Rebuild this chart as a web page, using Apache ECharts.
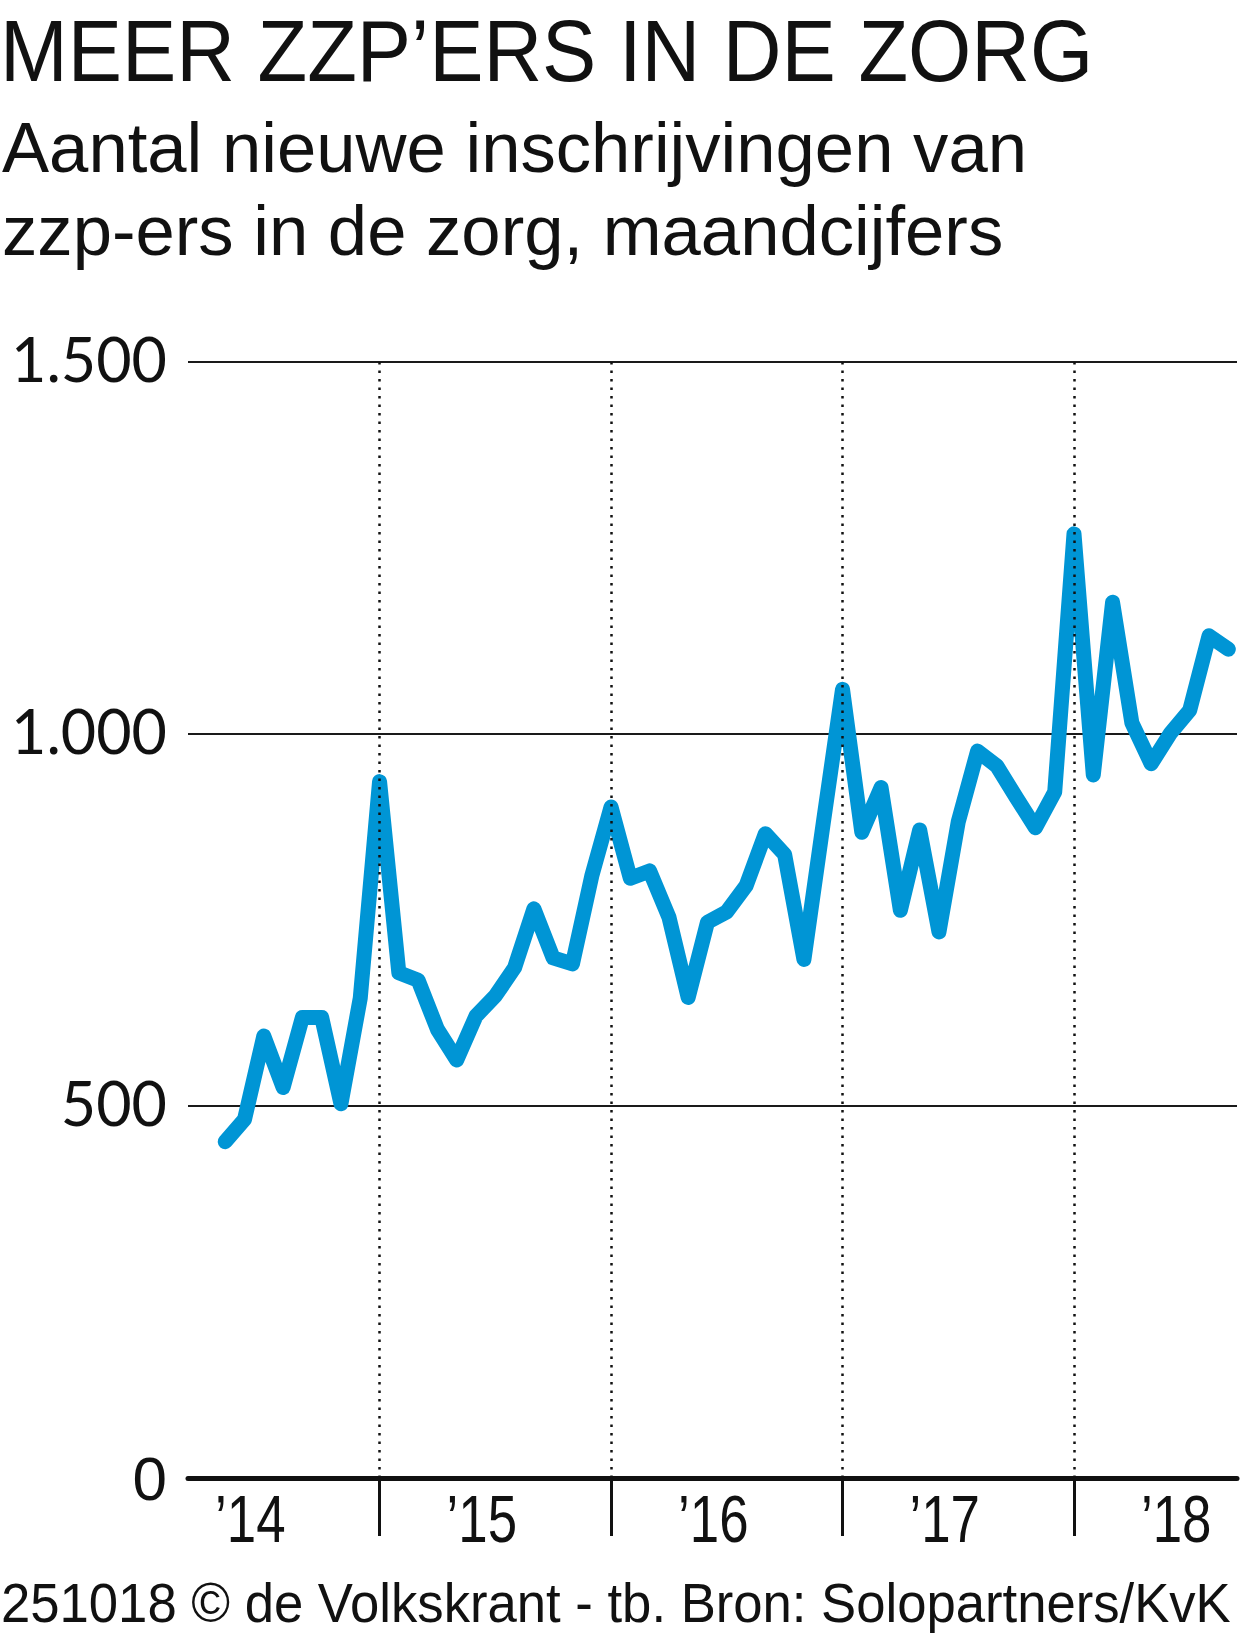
<!DOCTYPE html>
<html>
<head>
<meta charset="utf-8">
<script src="https://cdn.jsdelivr.net/npm/echarts@6/dist/echarts.min.js"></script>
<style>
  html, body { margin: 0; padding: 0; background: #fff; }
  .page { position: relative; width: 1240px; height: 1633px; overflow: hidden; }
  #chart { position: absolute; left: 0; top: 0; width: 1240px; height: 1633px; }
  .txt { position: absolute; color: #111; font-family: 'Liberation Sans', Arial, sans-serif; white-space: nowrap; transform-origin: 0 0; }
  .title { left: 0; top: 0; font-size: 88px; line-height: normal; transform: scaleX(0.924); }
  .sub { left: 2px; top: 106px; font-size: 71px; line-height: 83px; transform: scaleX(0.995); }
  .foot { left: 1px; top: 1570px; font-size: 56px; line-height: normal; transform: scaleX(0.94); }
</style>
</head>
<body>
<div class="page">
  <div id="chart"></div>
  <div class="txt title">MEER ZZP’ERS IN DE ZORG</div>
  <div class="txt sub">Aantal nieuwe inschrijvingen van<br>zzp-ers in de zorg, maandcijfers</div>
  <div class="txt foot">251018 © de Volkskrant - tb. Bron: Solopartners/KvK</div>
</div>

<script>
// maandcijfers, mei 2014 t/m sep 2018 (index 0 = mei 2014)
const values = [
  452, 482, 594, 525, 619, 619, 503, 645,                      // 2014
  936, 679, 669, 603, 562, 621, 648, 686, 765, 699, 691, 809,  // 2015
  902, 806, 816, 754, 646, 747, 761, 796, 866, 838, 697, 880,  // 2016
  1060, 868, 928, 763, 871, 734, 882, 977, 957, 915, 874, 922, // 2017
  1269, 945, 1177, 1015, 960, 1001, 1032, 1132, 1114           // 2018
];
// positie van januari van elk jaar (index in values)
const yearBreaks = [8, 20, 32, 44];
const yearLabels = ['’14', '’15', '’16', '’17', '’18'];
const yearLabelPos = [1.3, 13.3, 25.3, 37.3, 49.3];
const yTicks = [0, 500, 1000, 1500];

const condensed = "'Liberation Sans', Arial, sans-serif";

var chartDom = document.getElementById('chart');
var myChart = echarts.init(chartDom, null, { renderer: 'svg' });
var option;

option = {
  animation: false,
  grid: {
    left: 188,
    right: 3,
    top: 362,
    bottom: 155
  },
  xAxis: {
    type: 'value',
    min: -1.93,
    max: 52.45,
    splitLine: { show: false },
    axisLine: {
      lineStyle: { color: '#111', width: 5 }
    },
    axisTick: {
      show: true,
      customValues: yearBreaks,
      length: 58,
      lineStyle: { color: '#111', width: 3 }
    },
    axisLabel: { show: false }
  },
  yAxis: {
    type: 'value',
    min: yTicks[0],
    max: yTicks[yTicks.length - 1],
    interval: 500,
    axisLine: { show: false },
    axisTick: { show: false },
    splitLine: {
      lineStyle: { color: '#1a1a1a', width: 2 }
    },
    axisLabel: {
      margin: 21,
      color: '#111',
      formatter: function (val) {
        if (val === 0) return '{z|0}';
        return '{w|' + String(val).replace(/\B(?=(\d{3})+(?!\d))/g, '.') + '}';
      },
      rich: {
        w: { fontFamily: 'Lato', fontSize: 61, color: '#111', padding: [0, 0, 8, 0] },
        z: { fontFamily: condensed, fontSize: 62, color: '#111' }
      }
    }
  },
  series: [
    {
      type: 'line',
      data: values.map(function (v, i) { return [i, v]; }),
      showSymbol: false,
      lineStyle: { color: '#0095d5', width: 15, cap: 'round', join: 'round' },
      markLine: {
        silent: true,
        symbol: ['none', 'none'],
        label: { show: false },
        lineStyle: { color: '#111', width: 2.5, type: [2.5, 6] },
        data: yearBreaks.map(function (x) { return { xAxis: x }; })
      }
    }
  ]
};

option && myChart.setOption(option);

// jaartallen onder de as, smal gezet
var axisY = myChart.convertToPixel({ yAxisIndex: 0 }, 0);
myChart.setOption({
  graphic: yearLabels.map(function (lab, i) {
    return {
      type: 'text',
      x: myChart.convertToPixel({ xAxisIndex: 0 }, yearLabelPos[i]),
      y: axisY + 8,
      scaleX: 0.8,
      silent: true,
      style: {
        text: lab,
        fill: '#111',
        font: '66px ' + condensed,
        align: 'center',
        verticalAlign: 'top'
      }
    };
  })
});
</script>
</body>
</html>
